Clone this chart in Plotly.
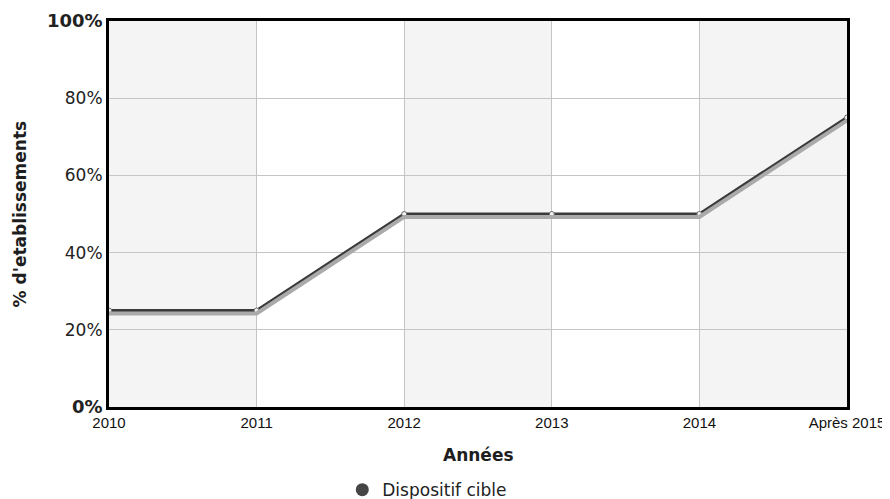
import plotly.graph_objects as go

categories = ["2010", "2011", "2012", "2013", "2014", "Après 2015"]
values = [25, 25, 50, 50, 50, 75]
y_ticks = [0, 20, 40, 60, 80, 100]
y_ticktext = ["<b><span style='font-size:18px'>0%</span></b>", "20%", "40%", "60%", "80%",
              "<b><span style='font-size:18px'>100%</span></b>"]
series_name = "Dispositif cible"

FONT = "DejaVu Sans"
XFONT = "Liberation Sans"
idx = list(range(len(categories)))

fig = go.Figure()

# shadow line (drawn on an overlay axis shifted a few pixels down)
fig.add_trace(go.Scatter(x=idx, y=values, mode="lines", yaxis="y2",
                         line=dict(color="#aaaaaa", width=4), showlegend=False,
                         hoverinfo="skip"))
fig.add_trace(go.Scatter(x=idx, y=values, mode="lines+markers", name=series_name,
                         line=dict(color="#3a3a3a", width=3.2),
                         marker=dict(symbol="circle", size=5, color="#f2f2f2",
                                     line=dict(color="#6a6a6a", width=1)),
                         showlegend=False))
fig.add_trace(go.Scatter(x=[None], y=[None], mode="markers", name=series_name,
                         marker=dict(symbol="circle", size=13, color="#454545")))

shapes = []
for i in range(0, len(categories) - 1, 2):
    shapes.append(dict(type="rect", xref="x", yref="y", x0=i, x1=i + 1, y0=0, y1=100,
                       fillcolor="#f4f4f4", line=dict(width=0), layer="below"))

fig.update_layout(
    width=882, height=491,
    margin=dict(l=101, r=43, t=13, b=92, autoexpand=False),
    paper_bgcolor="white", plot_bgcolor="white",
    font=dict(family=FONT, color="#222222"),
    shapes=shapes,
    xaxis=dict(range=[0, len(categories) - 1], tickmode="array", tickvals=idx,
               ticktext=categories, showgrid=True, gridcolor="#c4c4c4", gridwidth=1,
               showline=True, linecolor="black", linewidth=3, mirror=True,
               ticks="", tickfont=dict(size=15, family=XFONT, color="#111111"),
               zeroline=False, automargin=False),
    yaxis=dict(range=[0, 100], tickmode="array", tickvals=y_ticks, ticktext=y_ticktext,
               showgrid=True, gridcolor="#c4c4c4", gridwidth=1,
               showline=True, linecolor="black", linewidth=3, mirror=True,
               ticks="", tickfont=dict(size=17, family=FONT, color="#222"),
               zeroline=False, automargin=False),
    yaxis2=dict(range=[0.75, 100.75], overlaying="y", visible=False, automargin=False),
    legend=dict(orientation="h", xref="container", yref="container",
                x=0.379, xanchor="left", y=0.018, yanchor="middle",
                font=dict(size=17, family=FONT, color="#222")),
    annotations=[
        dict(text="<b>Années</b>", xref="paper", yref="paper", x=0.5, y=-0.124,
             xanchor="center", yanchor="middle", showarrow=False,
             font=dict(size=17, family=FONT, color="#1e1e1e")),
        dict(text="<b>% d'etablissements</b>", xref="paper", yref="paper", x=-0.12,
             y=0.5, xanchor="center", yanchor="middle", textangle=-90, showarrow=False,
             font=dict(size=17, family=FONT, color="#1e1e1e")),
    ],
)

fig.write_html("out.html")
